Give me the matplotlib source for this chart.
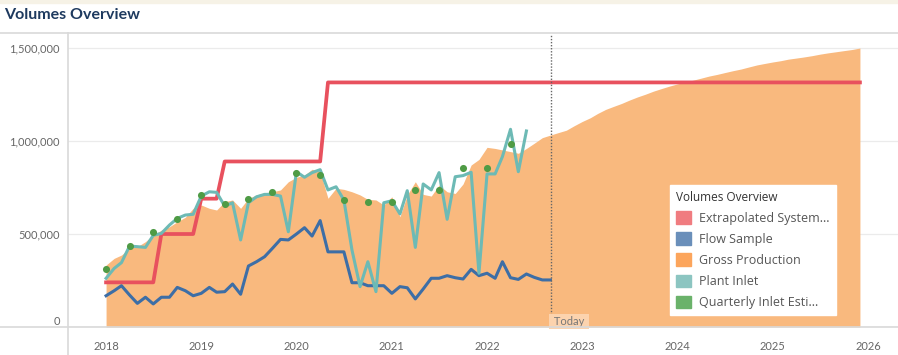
import matplotlib
matplotlib.use('Agg')
import matplotlib.pyplot as plt
import matplotlib.dates as mdates
from matplotlib.lines import Line2D
from matplotlib.patches import Patch
import pandas as pd
from datetime import datetime

plt.rcParams['font.family'] = ['Lato', 'DejaVu Sans']

# monthly values, thousands
gross_production = [
    333, 369, 387, 423, 432, 459, 495, 521, 539, 566, 590, 638,
    656, 638, 629, 674, 683, 638, 692, 710, 722, 727, 737, 781,
    805, 817, 848, 835, 692, 746, 740, 727, 710, 686, 683, 656,
    700, 593, 710, 781, 713, 704, 763, 727, 718, 769, 871, 901,
    966, 960, 952, 943, 934, 960, 988, 1018, 1032, 1045, 1058, 1082,
    1105, 1125, 1148, 1170, 1186, 1202, 1220, 1237, 1252, 1268, 1282, 1295,
    1307, 1317, 1327, 1338, 1349, 1358, 1368, 1378, 1387, 1398, 1409, 1417,
    1425, 1432, 1440, 1446, 1452, 1459, 1467, 1474, 1480, 1486, 1492, 1500,
]
extrapolated = ([240] * 7 + [500] * 5 + [690] * 3 + [890] * 13 + [1315] * 68)
plant_inlet = [
    262, 315, 346, 435, 432, 428, 493, 503, 548, 584, 602, 606,
    704, 727, 724, 650, 668, 468, 668, 700, 713, 713, 704, 512,
    835, 805, 830, 846, 737, 754, 683, 414, 217, 351, 190, 668,
    679, 608, 733, 428, 769, 737, 830, 579, 808, 814, 832, 289,
    823, 823, 916, 1063, 835, 1054,
]
flow_sample = [
    168, 195, 222, 172, 127, 160, 124, 160, 160, 213, 195, 168,
    181, 213, 187, 190, 231, 176, 328, 351, 378, 423, 471, 468,
    500, 534, 489, 572, 404, 404, 404, 238, 238, 222, 222, 222,
    181, 217, 211, 151, 204, 262, 262, 276, 265, 258, 310, 276,
    289, 262, 351, 265, 256, 285, 267, 253, 253,
]
quarterly_inlet = [
    310, 435, 512, 579,
    710, 661, 686, 727,
    826, 817, 681, 674,
    674, 737, 737, 857,
    853, 984,
]

months = pd.date_range('2018-01-01', periods=len(gross_production), freq='MS')
quarters = pd.date_range('2018-01-01', periods=len(quarterly_inlet), freq='QS')
today = datetime(2022, 9, 3)
years = [datetime(y, 1, 1) for y in range(2018, 2027)]

c_red = '#E8515E'
c_blue = '#3D6EA6'
c_orange = '#F9B97E'
c_teal = '#6DBAB5'
c_green = '#4F9B45'

fig = plt.figure(figsize=(8.98, 3.55), dpi=100)
ax = fig.add_axes([68 / 898, 28 / 355, 830 / 898, 292 / 355])

k = 1000
ax.fill_between(months, [v * k for v in gross_production], 0, color=c_orange, lw=0, zorder=1)
ax.plot(months, [v * k for v in extrapolated], color=c_red, lw=2.7, zorder=3)
ax.plot(months[:len(flow_sample)], [v * k for v in flow_sample], color=c_blue, lw=2.2, zorder=4)
ax.plot(months[:len(plant_inlet)], [v * k for v in plant_inlet], color=c_teal, lw=2.2, zorder=5)
ax.scatter(quarters, [v * k for v in quarterly_inlet], color=c_green, s=26, zorder=6, lw=0)

ax.axvline(today, color='#666666', lw=1, linestyle=(0, (1, 1.2)), zorder=7)
ax.text(today, 0, ' Today ', ha='left', va='bottom', fontsize=8, color='#777777', zorder=8,
        bbox=dict(facecolor='#FCD3AE', edgecolor='none', pad=1.5))

ax.set_xlim(datetime(2017, 8, 8), datetime(2026, 4, 26))
ax.set_ylim(0, 1.57e6)
ax.set_xticks(years)
ax.xaxis.set_major_formatter(mdates.DateFormatter('%Y'))
ax.set_yticks([0, 500000, 1000000, 1500000])
ax.set_yticklabels(['0', '500,000', '1,000,000', '1,500,000'])
ax.yaxis.get_ticklabels()[0].set_verticalalignment('bottom')
ax.tick_params(length=0, labelsize=8, labelcolor='#666666')
ax.tick_params(axis='x', pad=10)
ax.tick_params(axis='y', pad=6)
ax.grid(axis='y', color='#EBEBEB', lw=0.9)
ax.set_axisbelow(True)
for s in ax.spines.values():
    s.set_visible(False)

# header / separators
fig.patches.append(plt.Rectangle((0, 1 - 3 / 355), 1, 3 / 355, transform=fig.transFigure,
                                 color='#F6F2E6', zorder=0))
fig.text(4 / 898, 1 - 15 / 355, 'Volumes Overview', fontsize=11.5, fontweight='bold',
         color='#1E3A5F', va='center', ha='left')
fig.add_artist(Line2D([0, 1], [1 - 33 / 355] * 2, color='#D9D9D9', lw=1.2))
fig.add_artist(Line2D([68 / 898] * 2, [0, 1 - 33 / 355], color='#D9D9D9', lw=1.2))
fig.add_artist(Line2D([0, 1], [28 / 355] * 2, color='#D9D9D9', lw=1.2))

handles = [
    Patch(color='#F07C80', label='Extrapolated System...'),
    Patch(color='#6A8FBA', label='Flow Sample'),
    Patch(color='#FCA55C', label='Gross Production'),
    Patch(color='#8CC5C1', label='Plant Inlet'),
    Patch(color='#6AB26A', label='Quarterly Inlet Esti...'),
]
leg = fig.legend(handles=handles, title='Volumes Overview', loc='upper left',
                 bbox_to_anchor=(670 / 898, 1 - 185 / 355), frameon=True, fancybox=False,
                 prop={'family': 'Open Sans', 'size': 9}, title_fontsize=8.5,
                 handlelength=1.2, handleheight=1.2,
                 handletextpad=0.7, labelspacing=0.6, borderpad=0.45, borderaxespad=0)
leg.get_frame().set_facecolor('white')
leg.get_frame().set_edgecolor('white')
leg.get_frame().set_alpha(1)
leg._legend_box.align = 'left'
leg.get_title().set_color('#333333')
leg.get_title().set_family('Open Sans')
for t in leg.get_texts():
    t.set_color('#555555')

fig.savefig('out.png', dpi=100)
